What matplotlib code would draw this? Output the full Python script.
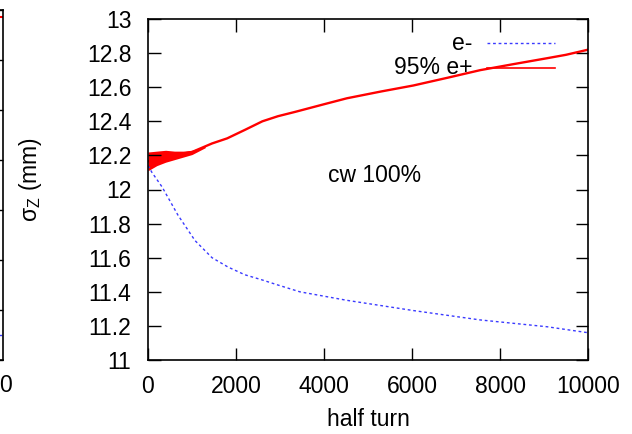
import matplotlib.pyplot as plt
from matplotlib.lines import Line2D

plt.rcParams['font.family'] = ['Liberation Sans', 'DejaVu Sans']

# e+ (95%) bunch length vs half turn
turn_pos = [0, 200, 400, 600, 800, 1000, 1455, 1800, 2205, 2600, 2955, 3340,
            4000, 4520, 5300, 6030, 6800, 7550, 8300, 9070, 9500, 10000]
sigma_pos = [12.165, 12.18, 12.19, 12.20, 12.21, 12.22, 12.27, 12.30, 12.35,
             12.40, 12.43, 12.455, 12.50, 12.535, 12.575, 12.61, 12.655, 12.70,
             12.735, 12.77, 12.79, 12.82]
# spread of the turn-by-turn oscillation over the first turns
band_turn = [0, 200, 400, 600, 800, 1000, 1300]
band_lo = [12.11, 12.14, 12.16, 12.175, 12.19, 12.205, 12.245]
band_hi = [12.22, 12.225, 12.23, 12.225, 12.225, 12.23, 12.255]

# e- bunch length vs half turn
turn_ele = [0, 90, 320, 680, 1070, 1455, 1820, 2200, 2590, 2950, 3450, 4520,
            6030, 7550, 9070, 10000]
sigma_ele = [12.14, 12.10, 12.015, 11.85, 11.70, 11.60, 11.545, 11.50, 11.47,
             11.44, 11.40, 11.35, 11.29, 11.235, 11.195, 11.16]

# right-hand end of the neighbouring panel
left_turn = [9900, 10000]
left_pos = [6.86, 6.86]
left_ele = [0.5, 0.5]

xticks = [0, 2000, 4000, 6000, 8000, 10000]
yticks = [11, 11.2, 11.4, 11.6, 11.8, 12, 12.2, 12.4, 12.6, 12.8, 13]

W, H = 632, 434
FS = 16.5
fig = plt.figure(figsize=(W / 100, H / 100), dpi=100)

# neighbouring panel, mostly off the left edge
ax0 = fig.add_axes([(3 - 400) / W, (H - 360) / H, 400 / W, 350 / H])
ax0.plot(left_turn, left_pos, color='red', lw=1.5)
ax0.plot(left_turn, left_ele, color='#3a3aff', lw=1, dashes=(2, 2))
ax0.set_xlim(0, 10000)
ax0.set_ylim(0, 7)
ax0.set_yticks(range(8))
ax0.set_xticks([])
ax0.tick_params(direction='in', length=9, width=1, right=True, labelleft=False)
for s in ax0.spines.values():
    s.set_linewidth(1.2)
fig.text(6 / W, 1 - 386 / H, '0', fontsize=FS, ha='center', va='center')

ax = fig.add_axes([148 / W, (H - 360) / H, 440 / W, 341 / H])
ax.fill_between(band_turn, band_lo, band_hi, color='red', lw=0)
ax.plot(turn_pos, sigma_pos, color='red', lw=1.7)
ax.plot(turn_ele, sigma_ele, color='#3a3aff', lw=1, dashes=(2, 2))
ax.set_xlim(0, 10000)
ax.set_ylim(11, 13)
ax.set_xticks(xticks)
ax.set_yticks(yticks)
ax.set_yticklabels([f'{v:g}' for v in yticks])
ax.tick_params(direction='in', length=9, width=1, top=True, right=True,
               labelsize=FS)
ax.tick_params(axis='y', pad=12)
ax.tick_params(axis='x', pad=11)
for s in ax.spines.values():
    s.set_linewidth(1.2)

ax.set_xlabel('half turn', fontsize=FS, labelpad=7)
fig.text(31 / W, 1 - 180 / H, r'σ$_\mathregular{Z}$ (mm)', fontsize=FS,
         rotation=90, ha='center', va='center')
fig.text(375 / W, 1 - 175 / H, 'cw 100%', fontsize=FS, ha='center',
         va='center')

# key: label on the left, sample on the right
for label, y, color, dash in [('e-', 43, '#3a3aff', (2, 2)),
                              ('95% e+', 68, 'red', None)]:
    fy = 1 - y / H
    fig.text(472 / W, fy, label, fontsize=FS, ha='right', va='center')
    ln = Line2D([487 / W, 555 / W], [fy, fy], transform=fig.transFigure,
                color=color, lw=1 if dash else 1.2)
    if dash:
        ln.set_dashes(dash)
    fig.add_artist(ln)

fig.savefig('out.png', dpi=100)
